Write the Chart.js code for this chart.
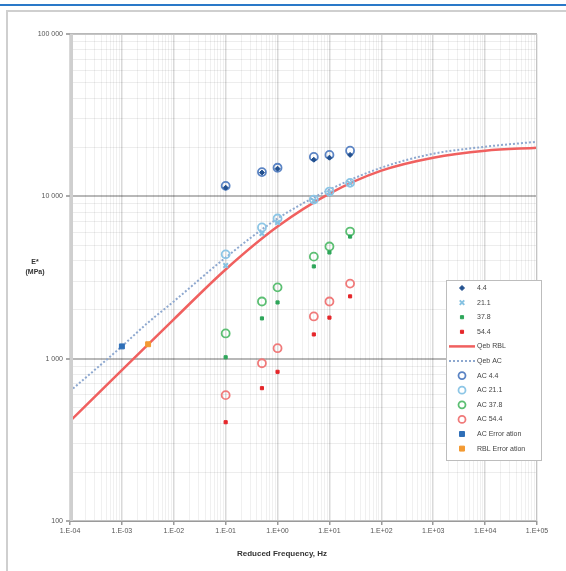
<!DOCTYPE html>
<html>
<head>
<meta charset="utf-8">
<script src="https://cdn.jsdelivr.net/npm/chart.js@4.4.1/dist/chart.umd.min.js"></script>
<style>
  html,body{margin:0;padding:0;background:#fff;}
  #wrap{position:relative;width:566px;height:571px;overflow:hidden;}
  #topline{position:absolute;left:0;top:4px;width:566px;height:2px;background:#2a79c8;}
  #frame{position:absolute;left:6px;top:10px;width:600px;height:600px;border-left:2px solid #cfcfcf;border-top:2px solid #cfcfcf;}
  canvas{position:absolute;left:0;top:0;}
</style>
</head>
<body>
<div id="wrap">
  <div id="topline"></div>
  <div id="frame"></div>
  <canvas id="c" width="566" height="571"></canvas>
</div>
<script>
// ---- data ----
const freqs = [0.1, 0.5, 1, 5, 10, 25];
const e44   = [11300, 14000, 14800, 16800, 17300, 18000];
const e211  = [3750, 5900, 6900, 9400, 10500, 12000];
const e378  = [1020, 1770, 2220, 3700, 4510, 5650];
const e544  = [406, 658, 830, 1410, 1790, 2420];
const ac44  = [11600, 14100, 15000, 17500, 18000, 19100];
const ac211 = [4390, 6430, 7300, 9550, 10700, 12100];
const ac378 = [1430, 2250, 2750, 4250, 4910, 6070];
const ac544 = [596, 937, 1160, 1820, 2250, 2900];

const curveFreqs = [1e-4, 1e-3, 3e-3, 1e-2, 1e-1, 1, 10, 100, 1e3, 1e4, 1e5];
const qebRBL = [412, 849, 1200, 1747, 3544, 6513, 10390, 14390, 17290, 19090, 19920];
const qebAC  = [631, 1191, 1640, 2253, 4200, 7295, 10995, 15010, 18300, 20210, 21690];

const acErrFreq = [1.0e-3];  const acErrE = [1190];
const rblErrFreq = [3.2e-3]; const rblErrE = [1227];

const yTickLabels = {100: '100', 1000: '1 000', 10000: '10 000', 100000: '100 000'};
const xTitle = 'Reduced Frequency, Hz';
const yTitle = ['E*', '(MPa)'];

function pts(xs, ys){ return xs.map((x,i)=>({x:x, y:ys[i]})); }

const datasets = [
  {label:'4.4', data:pts(freqs,e44), pointStyle:'rectRot', pointRadius:2.5, backgroundColor:'#22508f', borderColor:'#22508f', borderWidth:1, showLine:false, order:1},
  {label:'21.1', data:pts(freqs,e211), pointStyle:'crossRot', pointRadius:3.2, backgroundColor:'#86c2e2', borderColor:'#86c2e2', borderWidth:2, showLine:false, order:1},
  {label:'37.8', data:pts(freqs,e378), pointStyle:'rect', pointRadius:2.2, backgroundColor:'#2ea65a', borderColor:'#2ea65a', borderWidth:1, showLine:false, order:1},
  {label:'54.4', data:pts(freqs,e544), pointStyle:'rect', pointRadius:2.2, backgroundColor:'#e5262a', borderColor:'#e5262a', borderWidth:1, showLine:false, order:1},
  {label:'Qeb RBL', data:pts(curveFreqs,qebRBL), showLine:true, borderColor:'#f0605f', backgroundColor:'#f0605f', borderWidth:2.5, pointRadius:0, cubicInterpolationMode:'monotone', order:5},
  {label:'Qeb AC', data:pts(curveFreqs,qebAC), showLine:true, borderColor:'#8ea8cf', backgroundColor:'#8ea8cf', borderWidth:2, borderDash:[2,2], pointRadius:0, cubicInterpolationMode:'monotone', order:4},
  {label:'AC 4.4', data:pts(freqs,ac44), pointStyle:'circle', pointRadius:4, backgroundColor:'rgba(255,255,255,0)', borderColor:'#5b84c4', borderWidth:1.8, showLine:false, order:2},
  {label:'AC 21.1', data:pts(freqs,ac211), pointStyle:'circle', pointRadius:4, backgroundColor:'rgba(255,255,255,0)', borderColor:'#8dc6e6', borderWidth:1.8, showLine:false, order:2},
  {label:'AC 37.8', data:pts(freqs,ac378), pointStyle:'circle', pointRadius:4, backgroundColor:'rgba(255,255,255,0)', borderColor:'#5cbf73', borderWidth:1.8, showLine:false, order:2},
  {label:'AC 54.4', data:pts(freqs,ac544), pointStyle:'circle', pointRadius:4, backgroundColor:'rgba(255,255,255,0)', borderColor:'#f07a7a', borderWidth:1.8, showLine:false, order:2},
  {label:'AC Error ation', data:pts(acErrFreq,acErrE), pointStyle:'rect', pointRadius:3.5, backgroundColor:'#2f6fb8', borderColor:'#2f6fb8', borderWidth:1, showLine:false, order:0},
  {label:'RBL Error ation', data:pts(rblErrFreq,rblErrE), pointStyle:'rect', pointRadius:3.5, backgroundColor:'#f39a33', borderColor:'#f39a33', borderWidth:1, showLine:false, order:0}
];

function logTicks(minExp, maxExp){
  const t = [];
  for(let n=minExp;n<maxExp;n++){ for(let m=1;m<=9;m++){ t.push({value: m*Math.pow(10,n)}); } }
  t.push({value: Math.pow(10,maxExp)});
  return t;
}
function isMajor(v){ const l = Math.log10(v); return Math.abs(l-Math.round(l))<1e-9; }

const FONT = "'Liberation Sans', Arial, sans-serif";

const extrasPlugin = {
  id:'extras',
  beforeDraw(chart){
    const {ctx, chartArea:a} = chart;
    ctx.save(); ctx.fillStyle='#fff'; ctx.fillRect(a.left,a.top,a.right-a.left,a.bottom-a.top); ctx.restore();
  },
  afterDraw(chart){
    const {ctx, chartArea:a} = chart;
    ctx.save();
    ctx.strokeStyle='#c4c4c4'; ctx.lineWidth=1;
    ctx.strokeRect(a.left+0.5, a.top+0.5, a.right-a.left-1, a.bottom-a.top-1);
    ctx.strokeStyle='#cfcfcf'; ctx.lineWidth=3;
    ctx.beginPath(); ctx.moveTo(a.left+1.5,a.top); ctx.lineTo(a.left+1.5,a.bottom); ctx.stroke();
    ctx.strokeStyle='#9a9a9a'; ctx.lineWidth=1;
    ctx.beginPath(); ctx.moveTo(a.left,a.bottom+0.5); ctx.lineTo(a.right,a.bottom+0.5); ctx.stroke();
    ctx.fillStyle='#333'; ctx.textAlign='center'; ctx.textBaseline='middle';
    ctx.font = 'bold 8px ' + FONT;
    ctx.fillText(xTitle, 282, 554);
    ctx.font = 'bold 7px ' + FONT;
    ctx.fillText(yTitle[0], 35, 262);
    ctx.fillText(yTitle[1], 35, 272);
    const lx=446, ly=280, lw=95, lh=180;
    ctx.fillStyle='#fff'; ctx.fillRect(lx,ly,lw,lh);
    ctx.strokeStyle='#bdbdbd'; ctx.lineWidth=1; ctx.strokeRect(lx+0.5,ly+0.5,lw,lh);
    const step=14.6;
    chart.data.datasets.forEach((ds,i)=>{
      const y = ly + 8 + i*step;
      const mx = 462;
      if(ds.showLine){
        ctx.save();
        ctx.strokeStyle=ds.borderColor; ctx.lineWidth=ds.borderWidth;
        ctx.setLineDash(ds.borderDash||[]);
        ctx.beginPath(); ctx.moveTo(449,y); ctx.lineTo(475,y); ctx.stroke();
        ctx.restore();
      } else {
        ctx.save();
        ctx.fillStyle=ds.backgroundColor; ctx.strokeStyle=ds.borderColor; ctx.lineWidth=ds.borderWidth;
        Chart.helpers.drawPoint(ctx, {pointStyle:ds.pointStyle, radius:Math.min(ds.pointRadius,3.5), borderWidth:ds.borderWidth, rotation:0}, mx, y);
        ctx.restore();
      }
      ctx.fillStyle='#444'; ctx.textAlign='left'; ctx.textBaseline='middle';
      ctx.font='7px ' + FONT;
      ctx.fillText(ds.label, 477, y);
    });
    ctx.restore();
  }
};

new Chart(document.getElementById('c'), {
  type:'scatter',
  data:{datasets},
  plugins:[extrasPlugin],
  options:{
    responsive:false,
    animation:false,
    layout:{padding:{top:34, right:29, bottom:0, left:0}},
    plugins:{legend:{display:false}, tooltip:{enabled:false}},
    scales:{
      x:{
        type:'logarithmic', min:1e-4, max:1e5,
        afterBuildTicks(s){ s.ticks = logTicks(-4,5); },
        afterFit(s){ s.height = 50; },
        border:{display:false},
        grid:{
          color:(c)=> isMajor(c.tick.value) ? 'rgba(0,0,0,0.15)' : 'rgba(0,0,0,0.06)',
          lineWidth:(c)=> isMajor(c.tick.value) ? 1.5 : 1,
          tickColor:(c)=> isMajor(c.tick.value) ? '#999' : 'rgba(0,0,0,0)',
          tickLength:4, drawTicks:true
        },
        ticks:{
          autoSkip:false, maxRotation:0, padding:2, color:'#555',
          font:{size:7, family:FONT},
          callback:(v)=>{ if(!isMajor(v)) return ''; const n=Math.round(Math.log10(v)); return '1.E' + (n<0?'-':'+') + String(Math.abs(n)).padStart(2,'0'); }
        }
      },
      y:{
        type:'logarithmic', min:100, max:100000,
        afterBuildTicks(s){ s.ticks = logTicks(2,5); },
        afterFit(s){ s.width = 70; },
        border:{display:false},
        grid:{
          color:(c)=> isMajor(c.tick.value) ? 'rgba(0,0,0,0.28)' : 'rgba(0,0,0,0.07)',
          lineWidth:(c)=> isMajor(c.tick.value) ? 2 : 1,
          tickColor:(c)=> isMajor(c.tick.value) ? '#aaa' : 'rgba(0,0,0,0)',
          tickLength:4, drawTicks:true
        },
        ticks:{
          autoSkip:false, padding:3, color:'#555',
          font:{size:7, family:FONT},
          callback:(v)=> isMajor(v) ? (yTickLabels[Math.round(v)]||'') : ''
        }
      }
    }
  }
});
</script>
</body>
</html>
